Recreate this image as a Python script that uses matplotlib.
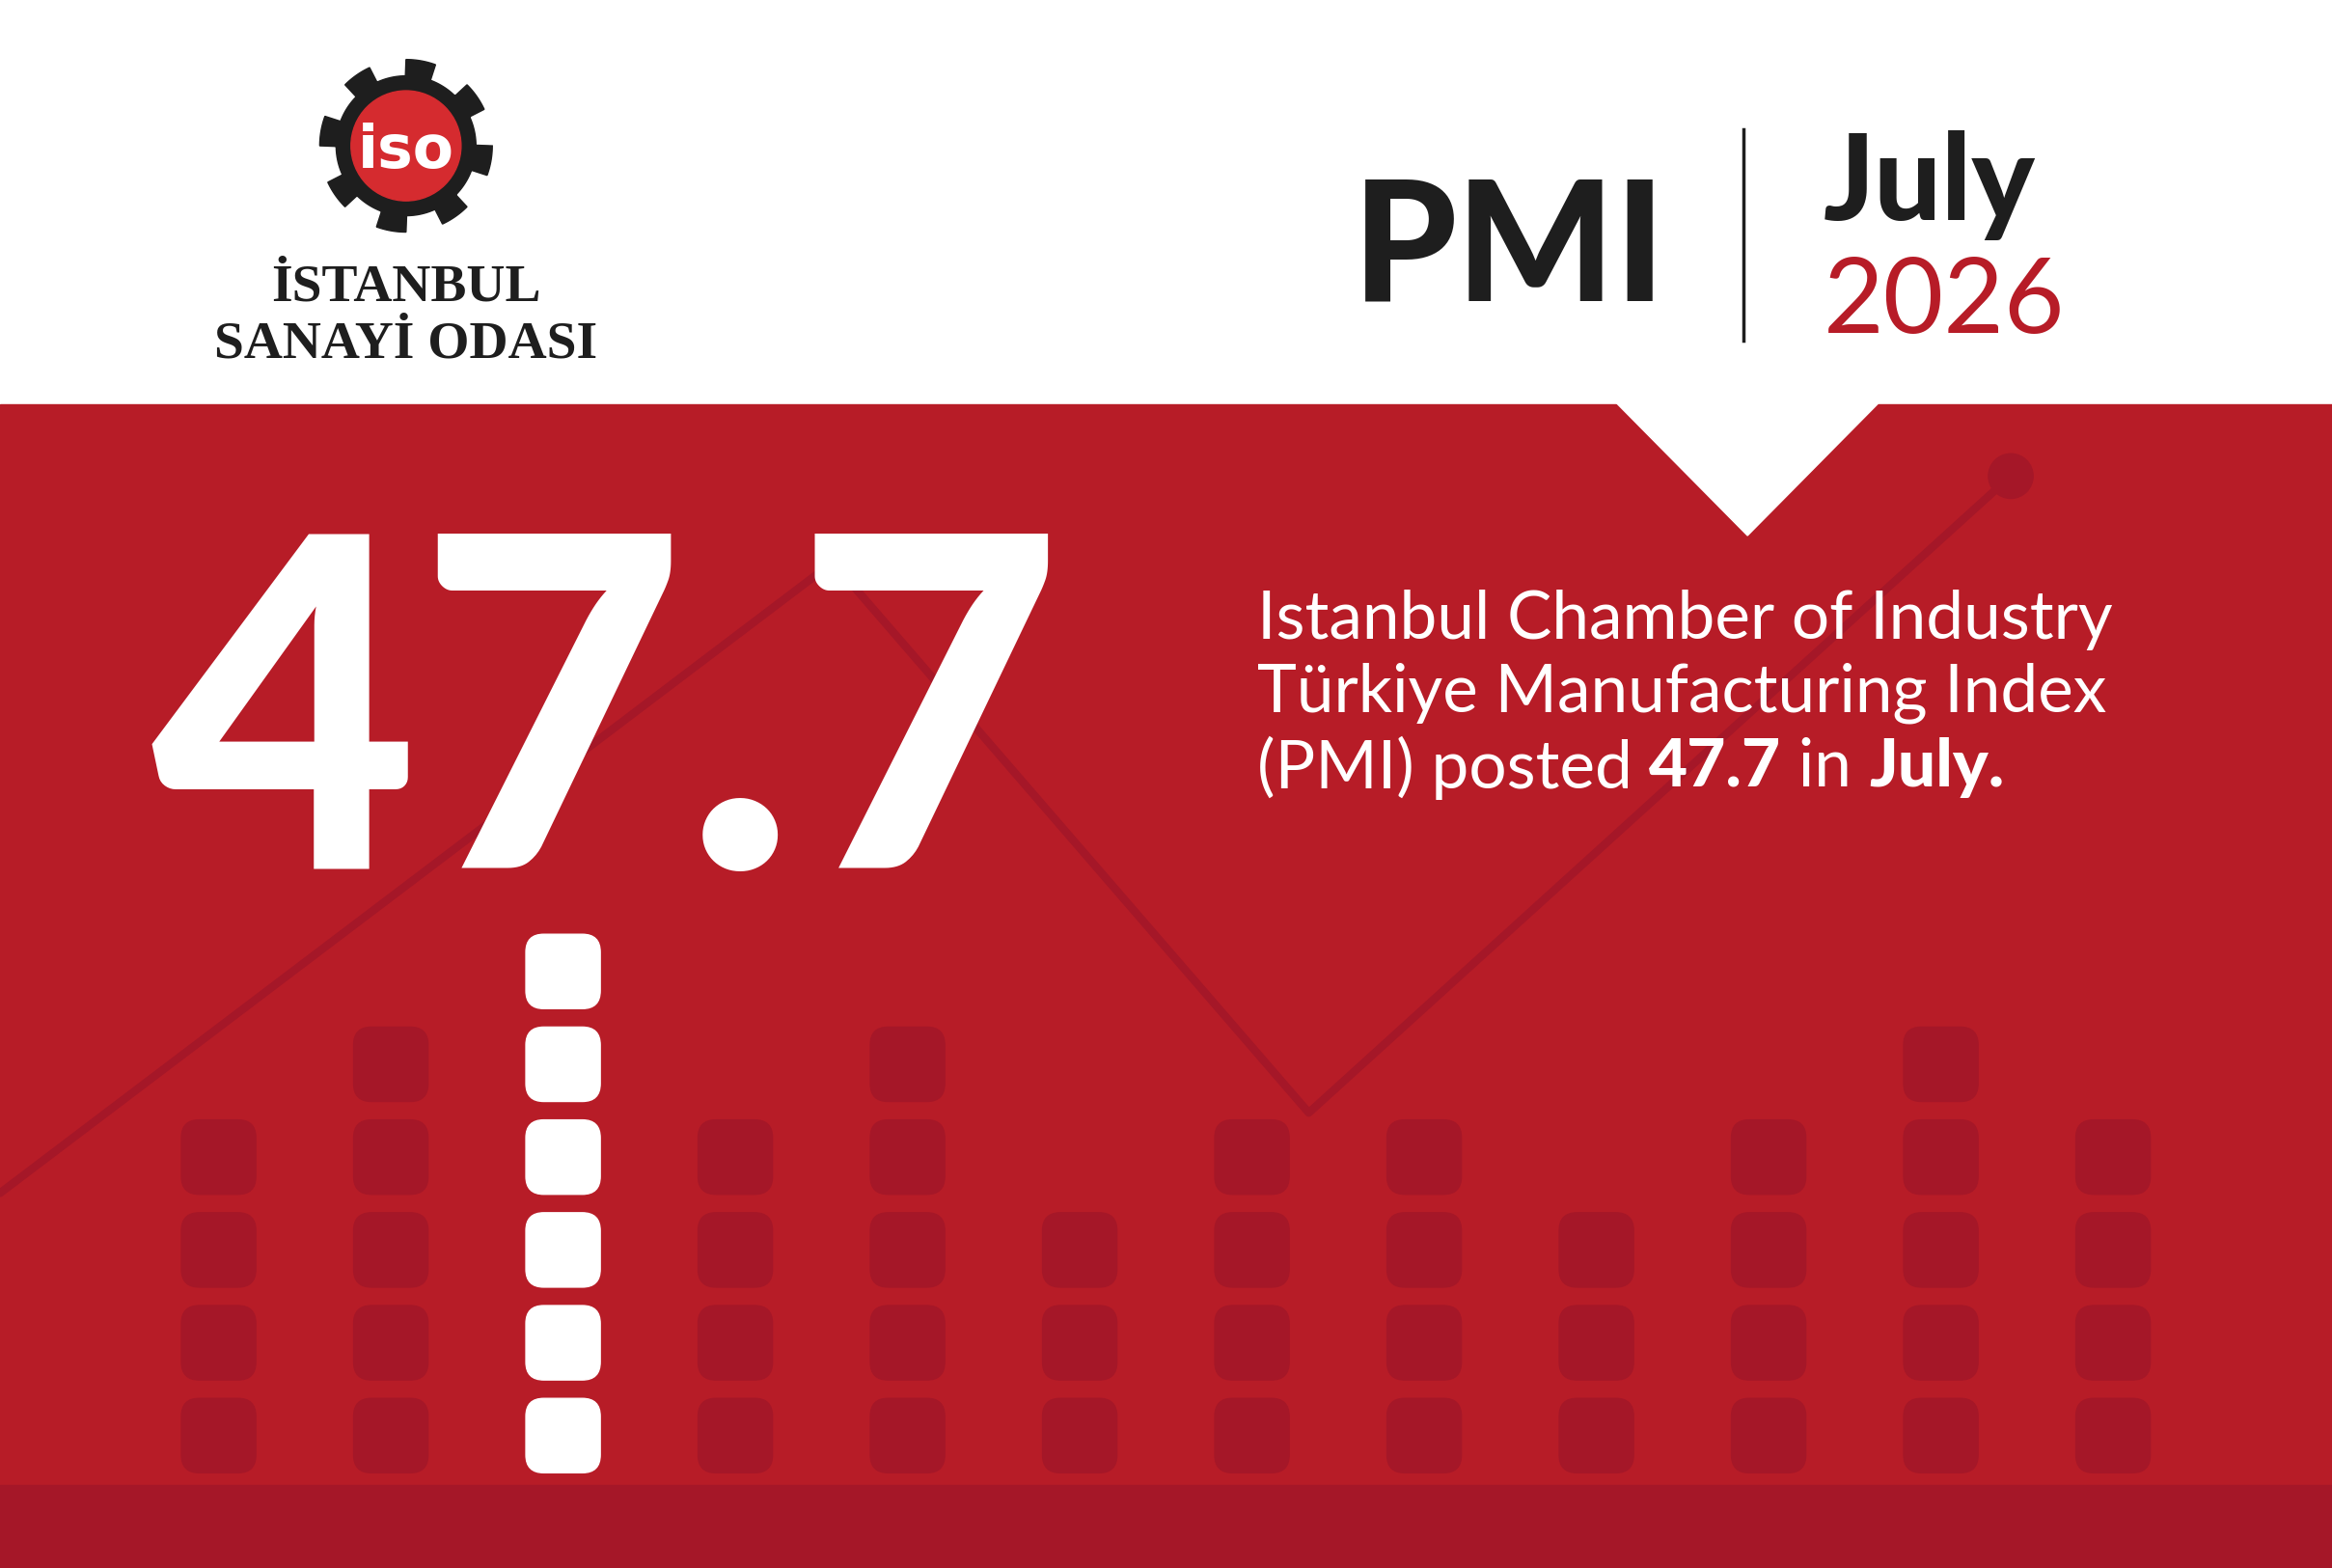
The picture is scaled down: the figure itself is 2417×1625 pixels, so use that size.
import numpy as np
import matplotlib.pyplot as plt
from matplotlib.patches import FancyBboxPatch, Polygon, Circle, Rectangle

# data
month = "July"
year = "2026"
pmi_value = "47.7"
col_counts = [4, 5, 6, 4, 5, 3, 4, 4, 3, 4, 5, 4]
highlight_col = 2
line_x = [0, 560, 880, 1352]
line_y = [802, 378, 748, 320]

RED = "#B71C27"
DARK = "#A51728"
W, H = 1568, 1054
S = 2417 / W  # reference px -> output px

fig = plt.figure(figsize=(24.17, 16.25), dpi=100)
ax = fig.add_axes([0, 0, 1, 1])
ax.set_xlim(0, W)
ax.set_ylim(H, 0)
ax.axis("off")

def fs(px):
    # font size from em height in reference px
    return px * S * 72 / 100

ax.add_patch(Rectangle((0, 272), W, H - 272, color=RED, zorder=0))
ax.add_patch(Polygon([(1087, 271), (1175, 360), (1263, 271)], color="white", zorder=1))
ax.add_patch(Rectangle((0, 998), W, 56, color=DARK, zorder=1))

# trend line
ax.plot(line_x, line_y, color=DARK, lw=6, zorder=2, solid_capstyle="round")
ax.add_patch(Circle((line_x[-1], line_y[-1]), 15, color=DARK, zorder=2))

# dot columns
x0, dx = 147, 115.8
y0, dy = 965, 62.4
sz = 50
for i, n in enumerate(col_counts):
    c = "white" if i == highlight_col else DARK
    for j in range(n):
        cx, cy = x0 + i * dx, y0 - j * dy
        ax.add_patch(FancyBboxPatch((cx - sz / 2 + 12, cy - sz / 2 + 12), sz - 24, sz - 24,
                                    boxstyle="round,pad=12", color=c, zorder=3))

# big number
ax.text(408, 468, pmi_value, color="white", fontsize=fs(310), fontweight="black",
        family="Lato", ha="center", va="center_baseline", zorder=4)

# header
ax.text(1015, 160, "PMI", fontsize=fs(112), fontweight="black", family="Lato",
        color="#1E1E1E", ha="center", va="center_baseline")
ax.plot([1172, 1172], [87, 229], color="#1E1E1E", lw=2.5)
ax.text(1226, 118, month, fontsize=fs(80), fontweight="black", family="Lato",
        color="#1E1E1E", ha="left", va="center_baseline")
ax.text(1226, 198, year, fontsize=fs(70), family="Lato", color=RED,
        ha="left", va="center_baseline")

# description
tfs = fs(45)
ax.text(845, 413, "Istanbul Chamber of Industry", fontsize=tfs, color="white",
        family="Lato", va="center_baseline")
ax.text(845, 462, "Türkiye Manufacturing Index", fontsize=tfs, color="white",
        family="Lato", va="center_baseline")
parts = [("(PMI) posted ", "normal"), ("47.7", "black"), (" in ", "normal"), ("July.", "black")]
fig.canvas.draw()
r = fig.canvas.get_renderer()
xc = 845
for txt, wgt in parts:
    t = ax.text(xc, 512, txt, fontsize=tfs, color="white", family="Lato",
                fontweight=wgt, va="center_baseline")
    bb = t.get_window_extent(renderer=r)
    xc += bb.width / S

# logo gear
gx, gy = 273, 98
ang = np.linspace(0, 2 * np.pi, 721)
rr = np.where((np.mod(ang * 8 / (2 * np.pi), 1) < 0.45), 58, 47)
ax.add_patch(Polygon(np.c_[gx + rr * np.cos(ang), gy + rr * np.sin(ang)],
                     color="#1E1E1E", zorder=2))
ax.add_patch(Circle((gx, gy), 37, color="#D52B2F", zorder=3))
ax.text(gx, gy + 4, "iso", fontsize=fs(40), fontweight="bold", color="white",
        ha="center", va="center", zorder=4)
ax.text(gx, 190, "İSTANBUL", fontsize=fs(36), fontweight="bold", family="Liberation Serif",
        color="#1E1E1E", ha="center", va="center_baseline")
ax.text(gx, 228, "SANAYİ ODASI", fontsize=fs(36), fontweight="bold", family="Liberation Serif",
        color="#1E1E1E", ha="center", va="center_baseline")

fig.savefig("out.png", dpi=100)
